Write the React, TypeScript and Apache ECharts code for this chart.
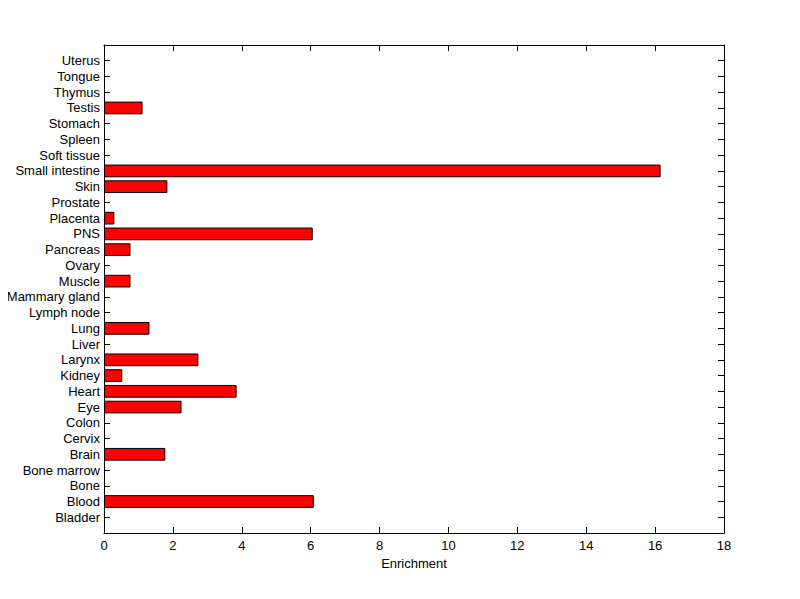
import React, { useEffect, useRef } from "react";
import * as echarts from "echarts";

const categories = [
  "Bladder", "Blood", "Bone", "Bone marrow", "Brain", "Cervix", "Colon", "Eye", "Heart",
  "Kidney", "Larynx", "Liver", "Lung", "Lymph node", "Mammary gland", "Muscle", "Ovary",
  "Pancreas", "PNS", "Placenta", "Prostate", "Skin", "Small intestine", "Soft tissue",
  "Spleen", "Stomach", "Testis", "Thymus", "Tongue", "Uterus",
];
const enrichment = [
  0, 6.09, 0, 0, 1.78, 0, 0, 2.25, 3.85,
  0.53, 2.74, 0, 1.32, 0, 0, 0.77, 0,
  0.77, 6.06, 0.3, 0, 1.84, 16.16, 0,
  0, 0, 1.12, 0, 0, 0,
];
const xTicks = [0, 2, 4, 6, 8, 10, 12, 14, 16, 18];

const FONT = "Liberation Sans";

export default function App() {
  const ref = useRef<HTMLDivElement>(null);
  useEffect(() => {
    if (!ref.current) return;
    const chart = echarts.init(ref.current, null, { renderer: "svg" });
    const axisCats = ["", ...categories, ""];
    const seriesData: any[] = ["-", ...enrichment.map((v) => (v === 0 ? "-" : v)), "-"];
    const lineStyle = { color: "#000", width: 1 };
    chart.setOption({
      animation: false,
      backgroundColor: "#fff",
      grid: { left: 104, right: 76, top: 45, bottom: 66, containLabel: false },
      xAxis: [
        {
          type: "value",
          min: xTicks[0],
          max: xTicks[xTicks.length - 1],
          interval: 2,
          position: "bottom",
          name: "Enrichment",
          nameLocation: "middle",
          nameGap: 23,
          nameTextStyle: { color: "#000", fontFamily: FONT, fontSize: 13 },
          axisLine: { show: true, onZero: false, lineStyle },
          axisTick: { show: true, inside: true, length: 6, lineStyle },
          axisLabel: { color: "#000", fontFamily: FONT, fontSize: 13, margin: 6 },
          splitLine: { show: false },
        },
        {
          type: "value",
          min: xTicks[0],
          max: xTicks[xTicks.length - 1],
          interval: 2,
          position: "top",
          axisLine: { show: true, onZero: false, lineStyle },
          axisTick: { show: true, inside: true, length: 6, lineStyle },
          axisLabel: { show: false },
          splitLine: { show: false },
        },
      ],
      yAxis: [
        {
          type: "category",
          data: axisCats,
          boundaryGap: false,
          position: "left",
          axisLine: { show: true, onZero: false, lineStyle },
          axisTick: { show: true, inside: true, length: 6, interval: 0, lineStyle },
          axisLabel: { color: "#000", fontFamily: FONT, fontSize: 13, margin: 4, interval: 0 },
          splitLine: { show: false },
        },
        {
          type: "category",
          data: axisCats,
          boundaryGap: false,
          position: "right",
          axisLine: { show: true, onZero: false, lineStyle },
          axisTick: { show: true, inside: true, length: 6, interval: 0, lineStyle },
          axisLabel: { show: false },
          splitLine: { show: false },
        },
      ],
      series: [
        {
          type: "bar",
          xAxisIndex: 0,
          yAxisIndex: 0,
          data: seriesData,
          barWidth: 12.7,
          itemStyle: { color: "#ff0000", borderColor: "#000", borderWidth: 1 },
        },
      ],
    });
    return () => chart.dispose();
  }, []);
  return <div ref={ref} style={{ width: 800, height: 599, margin: -8 }} />;
}
